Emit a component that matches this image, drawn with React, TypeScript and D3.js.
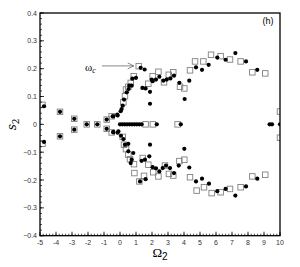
import React from "react";
import * as d3 from "d3";

type P = [number, number];

const xTicks = [-5, -4, -3, -2, -1, 0, 1, 2, 3, 4, 5, 6, 7, 8, 9, 10];
const yTicks = [-0.4, -0.3, -0.2, -0.1, 0, 0.1, 0.2, 0.3, 0.4];

const circlesNeg: P[] = [
  [-4.75, 0.065], [-4.75, -0.063], [-3.75, 0.045], [-3.75, -0.043],
  [-2.86, 0.02], [-2.86, -0.019], [-2.08, 0], [-1.42, 0],
  [-0.83, 0.017], [-0.83, -0.016], [-0.42, 0.029], [-0.42, -0.027],
  [-0.15, 0.032], [-0.15, -0.03],
];
const circlesUpper: P[] = [
  [-0.46, 0.029], [-0.17, 0.035], [0.04, 0.047], [0.1, 0.055], [0.17, 0.067],
  [0.25, 0.089], [0.42, 0.115], [0.54, 0.127], [0.58, 0.139], [0.73, 0.139],
  [0.77, 0.164], [1.0, 0.167], [1.29, 0.203], [1.54, 0.197], [1.4, 0.131],
  [1.6, 0.129], [1.875, 0.117], [1.875, 0.074], [1.98, 0.161], [2.04, 0.155],
  [2.25, 0.161], [2.46, 0.171], [2.71, 0.157], [2.92, 0.161], [3.15, 0.165],
  [3.375, 0.175], [3.71, 0.149], [4.04, 0.091], [4.33, 0.157], [4.75, 0.205],
  [5.125, 0.196], [5.54, 0.214], [6.08, 0.24], [6.6, 0.232], [7.21, 0.256],
  [7.875, 0.226], [8.58, 0.196],
];
const circlesLower: P[] = [
  [-0.42, -0.029], [-0.1, -0.025], [0.06, -0.041], [0.21, -0.053], [0.31, -0.073],
  [0.52, -0.07], [0.52, -0.097], [0.67, -0.139], [0.73, -0.127], [0.83, -0.103],
  [1.25, -0.205], [1.6, -0.197], [1.35, -0.131], [1.56, -0.127], [1.83, -0.115],
  [1.875, -0.073], [2.04, -0.154], [2.25, -0.158], [2.46, -0.169], [2.67, -0.157],
  [2.875, -0.148], [3.125, -0.157], [3.375, -0.175], [3.67, -0.148], [4.02, -0.088],
  [4.33, -0.155], [4.75, -0.205], [5.125, -0.195], [5.56, -0.213], [6.08, -0.24],
  [6.6, -0.232], [7.21, -0.256], [7.875, -0.223], [8.58, -0.195],
];
const circlesZero: P[] = [
  [0, 0], [0.15, 0], [0.3, 0], [0.45, 0], [0.6, 0], [0.75, 0], [0.9, 0],
  [1.05, 0], [1.2, 0], [1.35, 0], [2.3, 0], [3.8, 0], [9.35, 0], [9.5, 0], [10, 0],
];

const squaresNeg: P[] = [
  [-4.85, 0.07], [-4.85, -0.07], [-3.75, 0.045], [-3.75, -0.043],
  [-2.86, 0.02], [-2.86, -0.019], [-2.08, 0], [-1.42, 0],
  [-0.83, 0.017], [-0.83, -0.016], [-0.52, 0.029], [-0.52, -0.029],
];
const squaresUpper: P[] = [
  [0.21, 0.079], [0.31, 0.101], [0.375, 0.125], [0.52, 0.135], [0.67, 0.149],
  [0.86, 0.173], [1.17, 0.209], [1.77, 0.146], [2.04, 0.173], [2.4, 0.189],
  [2.75, 0.151], [3.05, 0.178], [3.33, 0.187], [3.75, 0.135], [4.02, 0.129],
  [4.375, 0.194], [4.69, 0.226], [5.21, 0.226], [5.69, 0.25], [6.29, 0.245],
  [6.875, 0.233], [7.54, 0.226], [8.27, 0.187], [9.08, 0.183], [10, 0.046],
];
const squaresLower: P[] = [
  [0.17, -0.045], [0.25, -0.073], [0.375, -0.089], [0.52, -0.109], [0.625, -0.125],
  [0.875, -0.143], [0.9, -0.175], [1.21, -0.205], [1.42, -0.121], [1.5, -0.185],
  [1.77, -0.145], [2.08, -0.172], [2.4, -0.187], [2.81, -0.148], [3.06, -0.178],
  [3.33, -0.184], [3.71, -0.132], [4.02, -0.127], [4.375, -0.19], [4.79, -0.238],
  [5.25, -0.226], [5.73, -0.247], [6.29, -0.244], [6.875, -0.232], [7.54, -0.226],
  [8.27, -0.187], [9.08, -0.181], [10, -0.048],
];
const squaresZero: P[] = [[1.6, 0], [2.05, 0], [3.6, 0]];

const W = 300;
const H = 267;
const L = 40, R = 280, T = 13, B = 235.7;

export default function App() {
  const x = d3.scaleLinear().domain([-5, 10]).range([L, R]);
  const y = d3.scaleLinear().domain([-0.4, 0.4]).range([B, T]);
  const xMinor = d3.range(-5, 10.001, 0.2);
  const yMinor = d3.range(-0.4, 0.4001, 0.02);
  const squares = [...squaresNeg, ...squaresUpper, ...squaresLower, ...squaresZero];
  const circles = [...circlesNeg, ...circlesUpper, ...circlesLower, ...circlesZero];
  const sq = 5.5;
  const font = "Liberation Sans, Arial, sans-serif";
  return (
    <svg width={W} height={H} style={{ position: "absolute", left: 0, top: 0, background: "#fff" }}>
      <defs>
        <clipPath id="pc">
          <rect x={L} y={T} width={R - L} height={B - T} />
        </clipPath>
      </defs>
      <g clipPath="url(#pc)">
        {squares.map((d, i) => (
          <rect key={"s" + i} x={x(d[0]) - sq / 2} y={y(d[1]) - sq / 2} width={sq} height={sq}
            fill="none" stroke="#808080" strokeWidth={0.9} />
        ))}
        {circles.map((d, i) => (
          <circle key={"c" + i} cx={x(d[0])} cy={y(d[1])} r={2.1} fill="#000" />
        ))}
      </g>
      {xMinor.map((v, i) => (
        <line key={"xm" + i} x1={x(v)} x2={x(v)} y1={B} y2={B - 2} stroke="#000" strokeWidth={0.7} />
      ))}
      {xTicks.map((v) => (
        <line key={"xt" + v} x1={x(v)} x2={x(v)} y1={B} y2={B - 4} stroke="#000" strokeWidth={0.8} />
      ))}
      {yMinor.map((v, i) => (
        <line key={"ym" + i} x1={L} x2={L + 2} y1={y(v)} y2={y(v)} stroke="#000" strokeWidth={0.7} />
      ))}
      {yTicks.map((v) => (
        <line key={"yt" + v} x1={L} x2={L + 4} y1={y(v)} y2={y(v)} stroke="#000" strokeWidth={0.8} />
      ))}
      <rect x={L} y={T} width={R - L} height={B - T} fill="none" stroke="#000" strokeWidth={1.3} />
      {xTicks.map((v) => (
        <text key={"xl" + v} x={x(v)} y={B + 9} fontSize={7} fontFamily={font} fill="#333" textAnchor="middle">
          {v}
        </text>
      ))}
      {yTicks.map((v) => (
        <text key={"yl" + v} x={L - 3} y={y(v) + 2.5} fontSize={7} fontFamily={font} fill="#333" textAnchor="end">
          {v === 0 ? "0" : d3.format(".1f")(v)}
        </text>
      ))}
      <text x={268} y={24} fontSize={9} fontFamily={font} fill="#000" textAnchor="middle">(h)</text>
      <text transform={`translate(16,${y(0)}) rotate(-90)`} fontSize={12} fontFamily="DejaVu Serif, serif"
        fontStyle="italic" fill="#000" textAnchor="middle">
        s<tspan fontSize={9} fontStyle="normal" dy={3}>2</tspan>
      </text>
      <text x={160} y={257} fontSize={13} fontFamily="Liberation Serif, serif" fill="#000" textAnchor="middle">
        Ω<tspan fontSize={10} dy={3} fontFamily={font}>2</tspan>
      </text>
      <text x={85} y={71} fontSize={11} fontFamily="Liberation Serif, serif" fill="#000">
        ω<tspan fontSize={8} fontStyle="italic" dy={2}>c</tspan>
      </text>
      <line x1={102} x2={x(1.17) - 5} y1={y(0.21)} y2={y(0.21)} stroke="#555" strokeWidth={0.7} />
      <path d={`M${x(1.17) - 11},${y(0.21) - 3} L${x(1.17) - 5},${y(0.21)} L${x(1.17) - 11},${y(0.21) + 3}`}
        fill="none" stroke="#555" strokeWidth={0.7} />
    </svg>
  );
}
